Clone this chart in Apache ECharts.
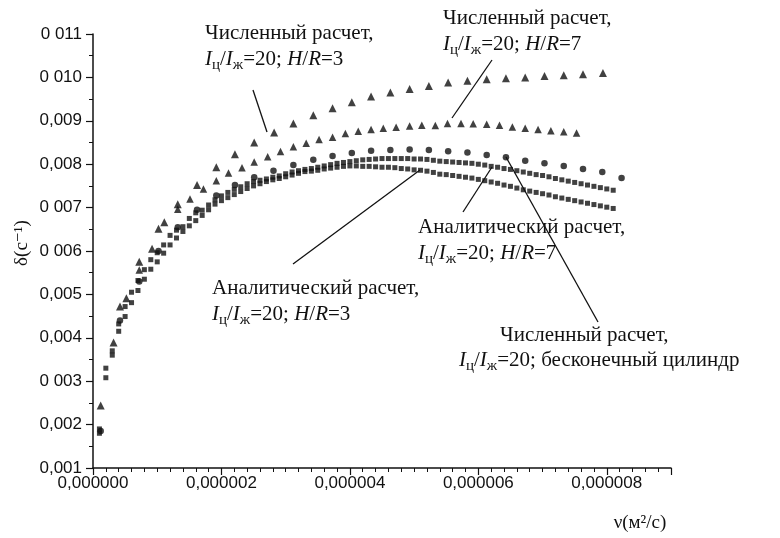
<!DOCTYPE html>
<html>
<head>
<meta charset="utf-8">
<script src="https://cdn.jsdelivr.net/npm/echarts@6/dist/echarts.min.js"></script>
<style>
  html, body { margin: 0; padding: 0; background: #fff; }
  #chart { width: 780px; height: 538px; }
</style>
</head>
<body>
<div id="chart"></div>
<script>
// nu values are in units of 1e-6 m2/s
var xTickLabels = ['0,000000', '0,000002', '0,000004', '0,000006', '0,000008'];
var yTickLabels = ['0,001', '0,002', '0 003', '0,004', '0,005', '0 006', '0 007', '0,008', '0,009', '0 010', '0 011'];

// numerical, H/R=3 (triangles, upper)
var nuNum3 = [0.12, 0.32, 0.42, 0.52, 0.72, 0.92, 1.02, 1.11, 1.32, 1.62, 1.92, 2.21, 2.51, 2.82, 3.12, 3.43, 3.73, 4.03, 4.33, 4.63, 4.93, 5.23, 5.53, 5.83, 6.13, 6.43, 6.73, 7.03, 7.33, 7.63, 7.94];
var dNum3 = [0.00244, 0.00389, 0.00472, 0.00491, 0.00575, 0.00605, 0.00651, 0.00666, 0.00708, 0.00752, 0.00793, 0.00823, 0.00850, 0.00873, 0.00894, 0.00913, 0.00929, 0.00943, 0.00956, 0.00965, 0.00973, 0.00980, 0.00988, 0.00992, 0.00996, 0.00998, 0.01000, 0.01003, 0.01005, 0.01007, 0.01010];

// numerical, H/R=7 (triangles, middle)
var nuNum7 = [0.72, 1.32, 1.51, 1.72, 1.92, 2.11, 2.32, 2.51, 2.72, 2.92, 3.12, 3.32, 3.52, 3.73, 3.93, 4.13, 4.33, 4.52, 4.72, 4.93, 5.12, 5.33, 5.52, 5.73, 5.92, 6.13, 6.33, 6.53, 6.73, 6.93, 7.13, 7.33, 7.53];
var dNum7 = [0.00556, 0.00696, 0.00720, 0.00743, 0.00762, 0.00780, 0.00792, 0.00805, 0.00817, 0.00829, 0.00840, 0.00848, 0.00857, 0.00862, 0.00871, 0.00876, 0.00880, 0.00883, 0.00885, 0.00888, 0.00890, 0.00889, 0.00894, 0.00894, 0.00893, 0.00892, 0.00890, 0.00886, 0.00883, 0.00880, 0.00877, 0.00875, 0.00872];

// numerical, infinite cylinder (circles)
var nuNumInf = [0.12, 0.42, 0.72, 1.02, 1.32, 1.62, 1.92, 2.21, 2.51, 2.81, 3.12, 3.43, 3.73, 4.03, 4.33, 4.63, 4.93, 5.23, 5.53, 5.83, 6.13, 6.43, 6.73, 7.03, 7.33, 7.63, 7.93, 8.23];
var dNumInf = [0.00185, 0.00440, 0.00530, 0.00600, 0.00655, 0.00695, 0.00728, 0.00752, 0.00770, 0.00785, 0.00798, 0.00810, 0.00819, 0.00826, 0.00831, 0.00833, 0.00834, 0.00833, 0.00830, 0.00827, 0.00821, 0.00816, 0.00808, 0.00802, 0.00796, 0.00789, 0.00782, 0.00768];

// analytical (squares)
var nuAn = [
  0.1, 0.2, 0.3, 0.4, 0.5, 0.6, 0.7, 0.8, 0.9, 1.0,
  1.1, 1.2, 1.3, 1.4, 1.5, 1.6, 1.7, 1.8, 1.9, 2.0,
  2.1, 2.2, 2.3, 2.4, 2.5, 2.6, 2.7, 2.8, 2.9, 3.0,
  3.1, 3.2, 3.3, 3.4, 3.5, 3.6, 3.7, 3.8, 3.9, 4.0,
  4.1, 4.2, 4.3, 4.4, 4.5, 4.6, 4.7, 4.8, 4.9, 5.0,
  5.1, 5.2, 5.3, 5.4, 5.5, 5.6, 5.7, 5.8, 5.9, 6.0,
  6.1, 6.2, 6.3, 6.4, 6.5, 6.6, 6.7, 6.8, 6.9, 7.0,
  7.1, 7.2, 7.3, 7.4, 7.5, 7.6, 7.7, 7.8, 7.9, 8.0,
  8.1
];
var dAn7 = [
  0.00190, 0.00330, 0.00370, 0.00432, 0.00472, 0.00505, 0.00532, 0.00557, 0.00580, 0.00596,
  0.00614, 0.00636, 0.00648, 0.00656, 0.00675, 0.00688, 0.00694, 0.00706, 0.00718, 0.00727,
  0.00735, 0.00742, 0.00748, 0.00755, 0.00760, 0.00763, 0.00766, 0.00770, 0.00773, 0.00778,
  0.00782, 0.00785, 0.00788, 0.00790, 0.00793, 0.00796, 0.00799, 0.00802, 0.00804, 0.00806,
  0.00808, 0.00810, 0.00811, 0.00812, 0.00813, 0.00813, 0.00813, 0.00813, 0.00813, 0.00812,
  0.00812, 0.00811, 0.00809, 0.00807, 0.00806, 0.00805, 0.00804, 0.00803, 0.00802, 0.00800,
  0.00798, 0.00795, 0.00793, 0.00790, 0.00788, 0.00785, 0.00782, 0.00779, 0.00776, 0.00774,
  0.00771, 0.00767, 0.00764, 0.00761, 0.00758, 0.00755, 0.00752, 0.00749, 0.00746, 0.00743,
  0.00740
];
var dAn3 = [
  0.00180, 0.00308, 0.00360, 0.00415, 0.00449, 0.00481, 0.00509, 0.00535, 0.00558, 0.00575,
  0.00595, 0.00614, 0.00630, 0.00645, 0.00658, 0.00670, 0.00682, 0.00695, 0.00708, 0.00716,
  0.00723, 0.00730, 0.00737, 0.00744, 0.00750, 0.00755, 0.00760, 0.00764, 0.00767, 0.00771,
  0.00775, 0.00779, 0.00783, 0.00784, 0.00786, 0.00789, 0.00791, 0.00793, 0.00795, 0.00796,
  0.00796, 0.00795, 0.00795, 0.00794, 0.00793, 0.00793, 0.00792, 0.00790, 0.00789, 0.00787,
  0.00786, 0.00784, 0.00781, 0.00777, 0.00776, 0.00774, 0.00772, 0.00770, 0.00768, 0.00765,
  0.00762, 0.00759, 0.00756, 0.00752, 0.00749, 0.00745, 0.00741, 0.00738, 0.00735, 0.00732,
  0.00729, 0.00725, 0.00722, 0.00719, 0.00716, 0.00713, 0.00710, 0.00707, 0.00704, 0.00701,
  0.00698
];

var pairs = function(xs, ys) {
  var out = [];
  for (var i = 0; i < xs.length; i++) out.push([xs[i], ys[i]]);
  return out;
};

var ink = '#111';
var serif = '"Liberation Serif", "DejaVu Serif", serif';
var sans = '"Liberation Sans", Arial, sans-serif';
var rich = {
  n: { fontFamily: serif, fontSize: 21, lineHeight: 26, fill: ink },
  i: { fontFamily: serif, fontSize: 21, lineHeight: 26, fontStyle: 'italic', fill: ink },
  s: { fontFamily: serif, fontSize: 15, lineHeight: 15, padding: [12, 0, 0, 0], fill: ink }
};
var ratio = '{i|I}{s|ц}{n|/}{i|I}{s|ж}{n|=20; }';

var note = function(x, y, text) {
  return { type: 'text', x: x, y: y, style: { text: text, rich: rich, fill: ink, verticalAlign: 'top' } };
};
var leader = function(x1, y1, x2, y2) {
  return { type: 'line', shape: { x1: x1, y1: y1, x2: x2, y2: y2 }, style: { stroke: ink, lineWidth: 1.3 } };
};

var scatter = function(name, data, symbol, size) {
  return {
    name: name, type: 'scatter', data: data, symbol: symbol, symbolSize: size,
    itemStyle: { color: ink }, silent: true
  };
};

var chart = echarts.init(document.getElementById('chart'));
chart.setOption({
  animation: false,
  backgroundColor: '#fff',
  grid: { left: 93, right: 109, top: 34, bottom: 70, outerBoundsMode: 'none' },
  xAxis: {
    type: 'value', min: 0, max: 9, interval: 2,
    axisLine: { lineStyle: { color: ink, width: 1.5 } },
    axisTick: { length: 7, lineStyle: { color: ink, width: 1.2 } },
    minorTick: { show: true, splitNumber: 10, length: 4, lineStyle: { color: ink, width: 1 } },
    splitLine: { show: false },
    axisLabel: {
      color: ink, fontFamily: sans, fontSize: 17, margin: 7,
      formatter: function(v) {
        var k = Math.round(v / 2);
        return (Math.abs(v - k * 2) < 1e-9 && k < xTickLabels.length) ? xTickLabels[k] : '';
      }
    }
  },
  yAxis: {
    type: 'value', min: 0.001, max: 0.011, interval: 0.001,
    axisLine: { lineStyle: { color: ink, width: 1.5 } },
    axisTick: { length: 7, lineStyle: { color: ink, width: 1.2 } },
    minorTick: { show: true, splitNumber: 2, length: 4, lineStyle: { color: ink, width: 1 } },
    splitLine: { show: false },
    axisLabel: {
      color: ink, fontFamily: sans, fontSize: 17, margin: 11,
      formatter: function(v) {
        var k = Math.round(v * 1000) - 1;
        return yTickLabels[k] || '';
      }
    }
  },
  series: [
    scatter('Численный расчет, H/R=3', pairs(nuNum3, dNum3), 'triangle', 8),
    scatter('Численный расчет, H/R=7', pairs(nuNum7, dNum7), 'triangle', 7.5),
    scatter('Численный расчет, бесконечный цилиндр', pairs(nuNumInf, dNumInf), 'circle', 6.5),
    scatter('Аналитический расчет, H/R=7', pairs(nuAn, dAn7), 'rect', 5),
    scatter('Аналитический расчет, H/R=3', pairs(nuAn, dAn3), 'rect', 5)
  ],
  graphic: [
    note(205, 20, '{n|Численный расчет,}\n' + ratio + '{i|H}{n|/}{i|R}{n|=3}'),
    leader(253, 90, 267, 132),
    note(443, 5, '{n|Численный расчет,}\n' + ratio + '{i|H}{n|/}{i|R}{n|=7}'),
    leader(492, 60, 452, 118),
    note(418, 214, '{n|Аналитический расчет,}\n' + ratio + '{i|H}{n|/}{i|R}{n|=7}'),
    leader(463, 212, 492, 167),
    note(212, 275, '{n|Аналитический расчет,}\n' + ratio + '{i|H}{n|/}{i|R}{n|=3}'),
    leader(293, 264, 420, 170),
    note(500, 322, '{n|Численный расчет,}'),
    note(459, 347, ratio + '{n|бесконечный цилиндр}'),
    leader(506, 157, 598, 322),
    { type: 'text', x: 640, y: 523, style: { text: 'ν(м²/с)', fontFamily: serif, fontSize: 19, fill: ink, align: 'center', verticalAlign: 'middle' } },
    { type: 'text', x: 22, y: 243, rotation: Math.PI / 2, style: { text: 'δ(с⁻¹)', fontFamily: serif, fontSize: 19, fill: ink, align: 'center', verticalAlign: 'middle' } }
  ]
});
</script>
</body>
</html>
